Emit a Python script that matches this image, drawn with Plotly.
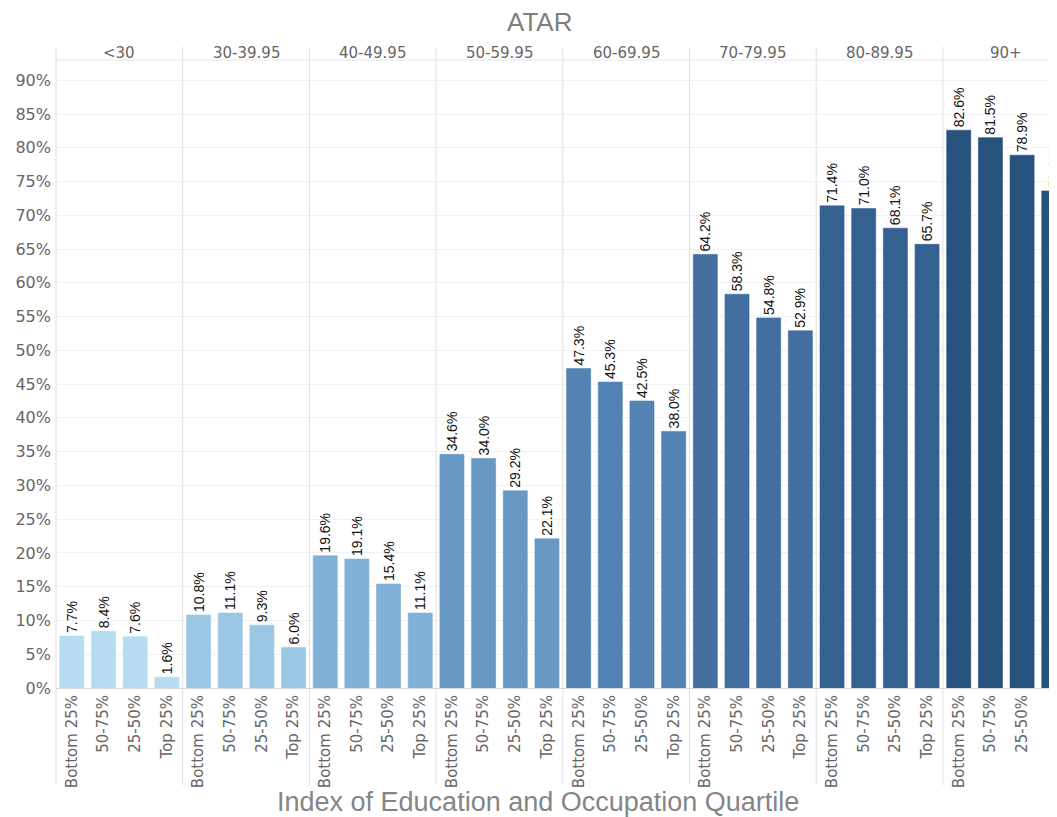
import plotly.graph_objects as go

facets = ["<30", "30-39.95", "40-49.95", "50-59.95", "60-69.95", "70-79.95", "80-89.95", "90+"]
quartiles = ["Bottom 25%", "50-75%", "25-50%", "Top 25%"]
values = {
    "<30": [7.7, 8.4, 7.6, 1.6],
    "30-39.95": [10.8, 11.1, 9.3, 6.0],
    "40-49.95": [19.6, 19.1, 15.4, 11.1],
    "50-59.95": [34.6, 34.0, 29.2, 22.1],
    "60-69.95": [47.3, 45.3, 42.5, 38.0],
    "70-79.95": [64.2, 58.3, 54.8, 52.9],
    "80-89.95": [71.4, 71.0, 68.1, 65.7],
    "90+": [82.6, 81.5, 78.9, 73.6],
}
colors = ["#b6dcf1", "#9bc7e5", "#80b1d8", "#6899c4", "#5283b3", "#426fa0", "#356190", "#28527e"]
y_ticks = list(range(0, 95, 5))

OFF = 8  # page body margin
W, H = 1057 - OFF, 817 - OFF
ML, MT = 56 - OFF, 60 - OFF
plot_h = 628
MB = H - MT - plot_h
plot_w = W - ML
fw = 126.7  # facet width in px

fig = go.Figure()
layout = dict(
    width=W, height=H,
    margin=dict(l=ML, r=0, t=MT, b=MB, pad=0),
    plot_bgcolor="white", paper_bgcolor="white",
    showlegend=False,
    font=dict(family="DejaVu Sans", color="#666666"),
)

tick_font = dict(family="DejaVu Sans", size=15, color="#666666")
for i, f in enumerate(facets):
    xa = "x" if i == 0 else f"x{i+1}"
    fig.add_trace(go.Bar(
        x=list(range(len(quartiles))), y=values[f],
        xaxis=xa, yaxis="y",
        marker=dict(color=colors[i], line=dict(width=0.6, color=colors[i])),
        width=0.76,
        text=[f"{v:.1f}%" for v in values[f]],
        textposition="outside", textangle=-90, constraintext="none",
        textfont=dict(family="Liberation Sans", size=14, color="#111111"),
        cliponaxis=False,
    ))
    d0 = i * fw / plot_w
    d1 = min((i + 1) * fw / plot_w, 1.0)
    vis_units = (d1 - d0) * plot_w / fw * 4
    key = "xaxis" if i == 0 else f"xaxis{i+1}"
    layout[key] = dict(
        domain=[d0, d1], anchor="y",
        range=[-0.5, -0.5 + vis_units],
        tickvals=list(range(len(quartiles))), ticktext=quartiles,
        tickangle=-90, tickfont=tick_font,
        showgrid=False, zeroline=False,
        showline=True, linecolor="#d9d9d9", linewidth=1,
        ticks="", ticklabelstandoff=0, fixedrange=True,
    )

layout["yaxis"] = dict(
    range=[0, 93], tickvals=y_ticks, ticktext=[f"{t}%" for t in y_ticks],
    tickfont=dict(family="DejaVu Sans", size=16, color="#666666"),
    showgrid=True, gridcolor="#f1f1f1", gridwidth=1,
    zeroline=False, showline=False, ticks="", ticklabelstandoff=4,
    anchor="x",
)

shapes = []
top_y = 1 + 13 / plot_h
bot_y = -97 / plot_h
for i in range(len(facets)):
    xp = i * fw / plot_w
    shapes.append(dict(type="line", xref="paper", yref="paper", x0=xp, x1=xp,
                       y0=bot_y, y1=top_y, line=dict(color="#e0e0e0", width=1)))
shapes.append(dict(type="line", xref="paper", yref="paper", x0=0, x1=1,
                   y0=1, y1=1, line=dict(color="#e6e6e6", width=1)))
layout["shapes"] = shapes

annotations = []
for i, f in enumerate(facets):
    annotations.append(dict(
        text=f, xref="paper", yref="paper",
        x=(i + 0.5) * fw / plot_w, y=1 + 7 / plot_h,
        xanchor="center", yanchor="middle", showarrow=False,
        font=dict(family="DejaVu Sans", size=15, color="#666666"),
    ))
annotations.append(dict(
    text="ATAR", xref="paper", yref="paper",
    x=(539 - 56) / plot_w, y=1 + (60 - 22) / plot_h,
    xanchor="center", yanchor="middle", showarrow=False,
    font=dict(family="Liberation Sans", size=26, color="#7f7f7f"),
))
annotations.append(dict(
    text="Index of Education and Occupation Quartile", xref="paper", yref="paper",
    x=(538 - 56) / plot_w, y=-(802 - 688) / plot_h,
    xanchor="center", yanchor="middle", showarrow=False,
    font=dict(family="Liberation Sans", size=27, color="#858585"),
))
layout["annotations"] = annotations

fig.update_layout(**layout)
fig.write_html("out.html")
